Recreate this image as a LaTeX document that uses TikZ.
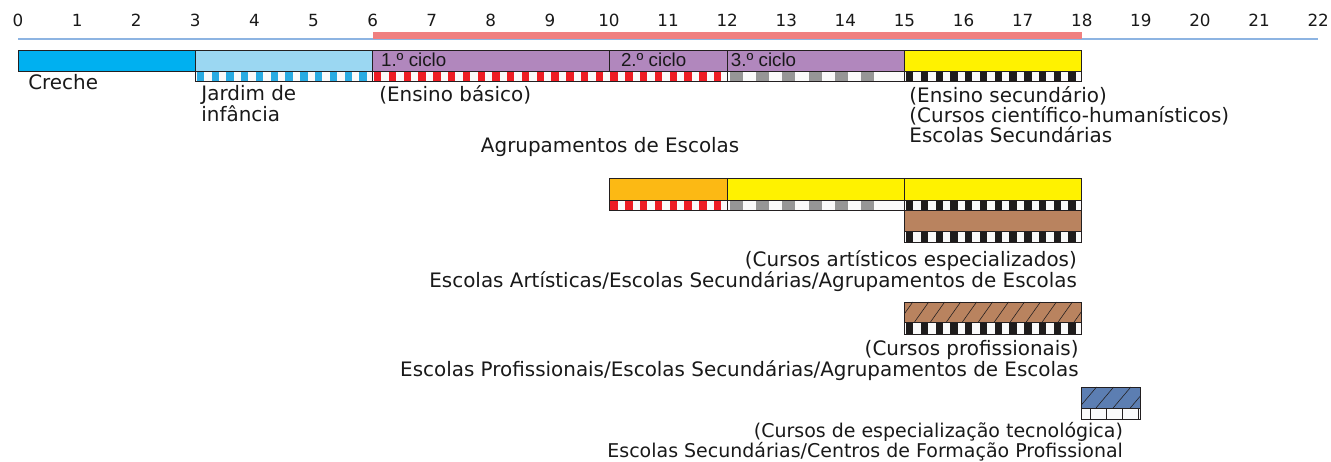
\documentclass[tikz,border=0pt]{standalone}
\usepackage{fontspec}
\setmainfont{DejaVu Sans}
\newfontfamily\cyclefont{Liberation Sans}
\usepackage{tikz}
\usetikzlibrary{positioning}
\definecolor{axisblue}{RGB}{141, 180, 226}
\definecolor{agesalmon}{RGB}{240, 128, 128}
\definecolor{crechecyan}{RGB}{0, 176, 240}
\definecolor{jardimblue}{RGB}{155, 215, 242}
\definecolor{jardimdark}{RGB}{41, 171, 226}
\definecolor{basicpurple}{RGB}{177, 135, 189}
\definecolor{stripred}{RGB}{237, 28, 36}
\definecolor{stripgray}{RGB}{150, 150, 150}
\definecolor{stripblack}{RGB}{30, 28, 28}
\definecolor{stripwhite}{RGB}{250, 250, 250}
\definecolor{secyellow}{RGB}{255, 242, 0}
\definecolor{artorange}{RGB}{252, 185, 20}
\definecolor{profbrown}{RGB}{185, 131, 95}
\definecolor{techblue}{RGB}{92, 126, 178}
\definecolor{barline}{RGB}{35, 31, 32}
\definecolor{txt}{RGB}{25, 25, 25}

% strip of small blocks under a bar: from, to, top, bottom, colour, blocks per year
\newcommand{\blockstrip}[6]{%
  \fill[stripwhite] (#1,#3) rectangle (#2,#4);
  \pgfmathtruncatemacro{\nblk}{(#2-#1)*#6}
  \foreach \k in {1,...,\nblk}
    \fill[#5] ({#1+(\k-1)/#6+0.1/#6},#3) rectangle ({#1+(\k-1)/#6+0.6/#6},#4);
  \draw[bar] (#1,#3) rectangle (#2,#4);
}

\begin{document}
\begin{tikzpicture}[
    x=1.773cm, y=-0.03cm,
    bar/.style={draw=barline, line width=0.7pt},
    hatch/.style={draw=barline, line width=0.5pt},
    lbl/.style={font=\fontsize{17}{16.8}\selectfont, text=txt, inner sep=0pt},
    cyc/.style={font=\cyclefont\fontsize{16}{16}\selectfont, text=txt, inner sep=0pt, anchor=base west},
    num/.style={font=\fontsize{14.3}{16}\selectfont, text=txt, inner sep=0pt, anchor=base}
]
    \useasboundingbox (-0.3046,0) rectangle (22.217,462);

    % Age axis
    \draw[axisblue, line width=1.2pt] (0,39) -- (22,39);
    \fill[agesalmon] (6,32) rectangle (18,39.4);
    \foreach \a in {0,...,22}
        \node[num] (age\a) at (\a,26.7) {\a};

    % Creche and Jardim de infancia
    \filldraw[bar, fill=crechecyan] (0,50) rectangle (3,71);
    \filldraw[bar, fill=jardimblue] (3,50) rectangle (6,71);
    \blockstrip{3}{6}{71}{81}{jardimdark}{4}
    \node[lbl, anchor=base west] (creche) at (0.17,89) {Creche};
    \node[lbl, anchor=north west, align=left] (jardim) at (3.10,84.8) {Jardim de\\infância};

    % Ensino basico, three cycles
    \filldraw[bar, fill=basicpurple] (6,50) rectangle (15,71);
    \draw[bar] (10,50) -- (10,71);
    \draw[bar] (12,50) -- (12,71);
    \blockstrip{6}{12}{71}{81}{stripred}{4}
    \blockstrip{12}{15}{71}{81}{stripgray}{2.25}
    \node[cyc] (ciclo1) at (6.14,66.5) {1.º ciclo};
    \node[cyc] (ciclo2) at (10.2,66.5) {2.º ciclo};
    \node[cyc] (ciclo3) at (12.06,66.5) {3.º ciclo};
    \node[lbl, anchor=base west] (basico) at (6.11,101) {(Ensino básico)};

    % Ensino secundario
    \filldraw[bar, fill=secyellow] (15,50) rectangle (18,71);
    \blockstrip{15}{18}{71}{81}{stripblack}{4}
    \node[lbl, anchor=north west, align=left] (secund) at (15.08,86.5)
        {(Ensino secundário)\\(Cursos científico-humanísticos)\\Escolas Secundárias};
    \node[lbl, anchor=base west] (agrup) at (7.83,153) {Agrupamentos de Escolas};

    % Cursos artisticos especializados
    \filldraw[bar, fill=artorange] (10,178) rectangle (12,200);
    \filldraw[bar, fill=secyellow] (12,178) rectangle (15,200);
    \filldraw[bar, fill=secyellow] (15,178) rectangle (18,200);
    \blockstrip{10}{12}{200}{210}{stripred}{4}
    \blockstrip{12}{15}{200}{210}{stripgray}{2.25}
    \blockstrip{15}{18}{200}{210}{stripblack}{4}
    \filldraw[bar, fill=profbrown] (15,210) rectangle (18,231);
    \blockstrip{15}{18}{231}{242}{stripblack}{4}
    \node[lbl, anchor=north east, align=right] (artist) at (17.92,250)
        {(Cursos artísticos especializados)\\Escolas Artísticas/Escolas Secundárias/Agrupamentos de Escolas};

    % Cursos profissionais
    \fill[profbrown] (15,302) rectangle (18,322);
    \begin{scope}
        \clip (15,302) rectangle (18,322);
        \foreach \k in {0,...,12}
            \draw[hatch] ({15+\k*0.27-0.1},322) -- ++(0.24,-20);
    \end{scope}
    \draw[bar] (15,302) rectangle (18,322);
    \blockstrip{15}{18}{322}{334}{stripblack}{4}
    \node[lbl, anchor=north east, align=right] (profis) at (17.95,340)
        {(Cursos profissionais)\\Escolas Profissionais/Escolas Secundárias/Agrupamentos de Escolas};

    % Cursos de especializacao tecnologica
    \fill[techblue] (18,387) rectangle (19,408);
    \begin{scope}
        \clip (18,387) rectangle (19,408);
        \foreach \k in {0,...,4}
            \draw[hatch] ({18+\k*0.29-0.05},408) -- ++(0.3,-21);
    \end{scope}
    \draw[bar] (18,387) rectangle (19,408);
    \filldraw[bar, fill=stripwhite] (18,408) rectangle (19,419);
    \foreach \xx in {18.15,18.42,18.68,18.95}
        \draw[bar] (\xx,408) -- (\xx,419);
    \node[lbl, font=\fontsize{16.2}{16.4}\selectfont, anchor=north east, align=right] (tecno) at (18.70,422.5)
        {(Cursos de especialização tecnológica)\\Escolas Secundárias/Centros de Formação Profissional};
\end{tikzpicture}
\end{document}
